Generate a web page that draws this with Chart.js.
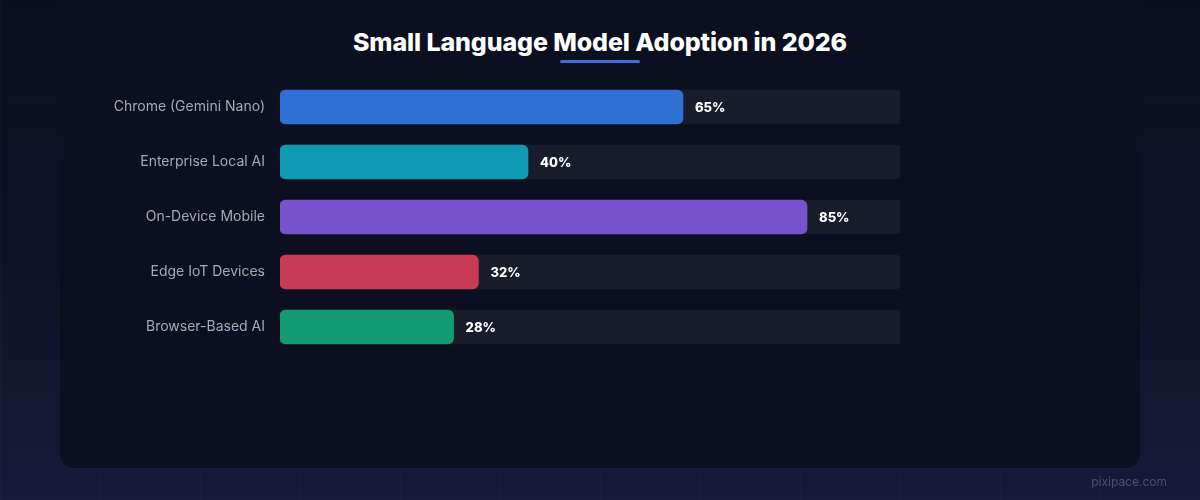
<!DOCTYPE html>
<html>
<head>
<meta charset="utf-8">
<script src="https://cdn.jsdelivr.net/npm/chart.js@4.4.1/dist/chart.umd.min.js"></script>
<style>
  html, body { margin: 0; padding: 0; }
  body {
    width: 1200px; height: 500px; overflow: hidden; position: relative;
    background: linear-gradient(180deg, #0b0e1d 0%, #0e1124 45%, #161a37 100%);
    font-family: Inter, "Noto Sans", sans-serif;
  }
  .grid {
    position: absolute; inset: 0;
    background-image:
      linear-gradient(90deg, rgba(255,255,255,0.018) 1px, transparent 1px),
      linear-gradient(0deg, rgba(255,255,255,0.012) 1px, transparent 1px);
    background-size: 100px 100px, 100px 100px;
  }
  .card {
    position: absolute; left: 60px; top: -20px; width: 1080px; height: 488px;
    background: #0c0f1f; border-radius: 14px;
    box-shadow: 0 0 0 1px rgba(255,255,255,0.012);
  }
  h1 {
    position: absolute; left: 0; top: 26px; width: 1200px; margin: 0;
    text-align: center; color: #ffffff; font-size: 25px; font-weight: 800;
    letter-spacing: -0.1px; line-height: 32px;
  }
  .line {
    position: absolute; left: 560px; top: 60px; width: 80px; height: 3px;
    background: #3b6fd8; border-radius: 2px;
  }
  .mark {
    position: absolute; right: 33px; top: 474px; color: #4b5070; font-size: 12px;
  }
  #wrap { position: absolute; left: 0; top: 0; width: 1200px; height: 500px; }
</style>
</head>
<body>
<div class="grid"></div>
<div class="card"></div>
<h1>Small Language Model Adoption in 2026</h1>
<div class="line"></div>
<div id="wrap"><canvas id="barChart"></canvas></div>
<div class="mark">pixipace.com</div>
<script>
  const categories = ['Chrome (Gemini Nano)', 'Enterprise Local AI', 'On-Device Mobile', 'Edge IoT Devices', 'Browser-Based AI'];
  const adoption = [65, 40, 85, 32, 28];
  const trackMax = [100, 100, 100, 100, 100];
  const barColors = ['#3070d4', '#0e9ab5', '#7652cc', '#c83a55', '#149a72'];

  // value labels to the right of each bar
  const valueLabels = {
    id: 'valueLabels',
    afterDatasetsDraw(chart) {
      const ctx = chart.ctx;
      const meta = chart.getDatasetMeta(1);
      ctx.save();
      ctx.fillStyle = '#ffffff';
      ctx.font = '800 13px Inter, sans-serif';
      ctx.textBaseline = 'middle';
      ctx.textAlign = 'left';
      meta.data.forEach(function(bar, i) {
        ctx.fillText(adoption[i] + '%', bar.x + 12, bar.y + 1);
      });
      ctx.restore();
    }
  };

  let context = document.getElementById('barChart').getContext('2d');

  new Chart(context, {
    type: 'bar',
    data: {
      labels: categories,
      datasets: [{
        data: trackMax,
        backgroundColor: '#191c2b',
        borderRadius: 4,
        borderSkipped: false,
        barThickness: 34,
        grouped: false,
        order: 2
      }, {
        data: adoption,
        backgroundColor: barColors,
        borderRadius: 6,
        borderSkipped: false,
        barThickness: 34,
        grouped: false,
        order: 1
      }]
    },
    options: {
      indexAxis: 'y',
      responsive: true,
      maintainAspectRatio: false,
      animation: false,
      layout: {
        padding: { left: 0, right: 300, top: 79.5, bottom: 145.5 }
      },
      scales: {
        x: {
          display: false,
          min: 0,
          max: 100
        },
        y: {
          border: { display: false },
          grid: { display: false, drawTicks: false },
          ticks: {
            color: '#a3a9bb',
            padding: 15,
            font: { family: 'Inter, sans-serif', size: 14 }
          },
          afterFit: function(scale) {
            scale.width = 280;
          }
        }
      },
      plugins: {
        legend: { display: false },
        tooltip: { enabled: false }
      }
    },
    plugins: [valueLabels]
  });
</script>
</body>
</html>
